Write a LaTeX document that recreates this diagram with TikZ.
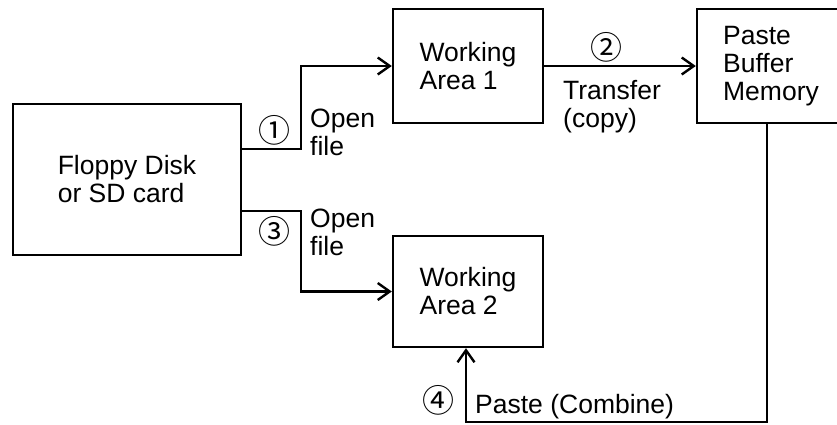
\documentclass[tikz,border=0pt]{standalone}
\usepackage{fontspec}
\setmainfont{Liberation Sans}
\newfontfamily\circfont{Noto Sans CJK SC}
\usetikzlibrary{arrows.meta}
\begin{document}
\begin{tikzpicture}[x=1pt,y=-1pt,
  every node/.style={font=\fontsize{26.5}{28}\selectfont},
  box/.style={draw,line width=2.4pt,align=left,inner sep=0pt},
  lbl/.style={align=left,inner sep=0pt},
  circ/.style={inner sep=0pt,font=\circfont\fontsize{32}{32}\selectfont},
  arr/.style={line width=2.4pt,-{Straight Barb[length=12pt,width=17pt,line width=2.4pt]}}]
\useasboundingbox (0,0) rectangle (837,424);
\node[box,minimum width=228pt,minimum height=151pt] (fl) at (127,179.5) {Floppy Disk\\or SD card};
\node[box,minimum width=150pt,minimum height=114pt] (wa1) at (468,66) {Working\\Area 1};
\node[box,minimum width=148pt,minimum height=114pt] (pb) at (771,66) {Paste\\Buffer\\Memory};
\node[box,minimum width=150pt,minimum height=111pt] (wa2) at (468,291.5) {Working\\Area 2};
\coordinate (a1) at (301,149);
\coordinate (a3) at (301,211);
\coordinate (b4) at (767,422);
\coordinate (c4) at (466,422);
\draw[arr] (fl.east |- a1) -- (a1) |- (wa1.west);
\draw[arr] (fl.east |- a3) -- (a3) |- (wa2.west);
\draw[arr] (wa1.east) -- (pb.west);
\draw[arr] (pb.south -| b4) -- (b4) -- (c4) -- (wa2.south -| c4);
\node[circ] (n1) at (274,130) {①};
\node[circ] (n3) at (274,231) {③};
\node[circ] (n2) at (606,47.5) {②};
\node[circ] (n4) at (438,400) {④};
\node[lbl,anchor=west] (o1) at (310,132) {Open\\file};
\node[lbl,anchor=west] (o3) at (310,232) {Open\\file};
\node[lbl,anchor=west] (tr) at (563,107) {Transfer\\(copy)};
\node[lbl,anchor=base west] (pc) at (475,413) {Paste (Combine)};
\end{tikzpicture}
\end{document}
